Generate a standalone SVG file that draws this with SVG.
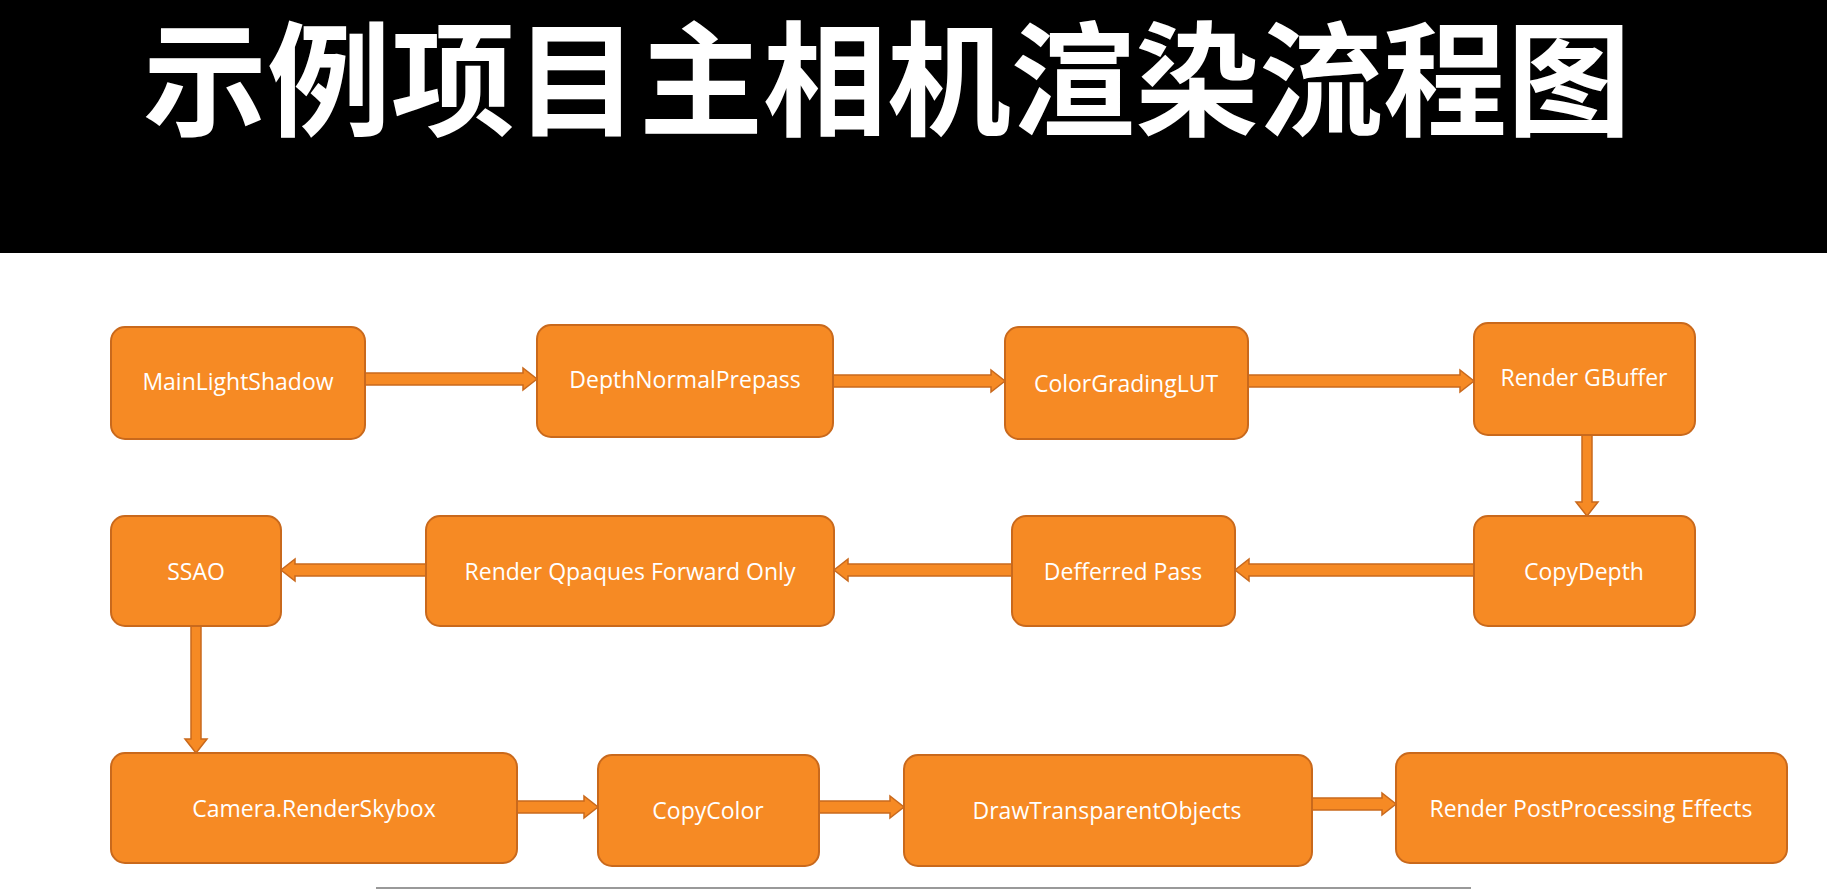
<svg xmlns="http://www.w3.org/2000/svg" width="1827" height="890" viewBox="0 0 1827 890">
<style>
.n rect{fill:#F68A24;stroke:#C9691C;stroke-width:2}
.n text{fill:#fff;font-family:"Open Sans","Noto Sans",sans-serif;font-size:23px;text-anchor:middle;dominant-baseline:central}
#connectors polygon{fill:#F68A24;stroke:#C9691C;stroke-width:1.5}
</style>
<rect width="1827" height="890" fill="#fff"/>
<rect width="1827" height="253" fill="#000"/>
<text x="887" y="126" fill="#fff" font-family="'Noto Sans CJK SC',sans-serif" font-weight="bold" font-size="124" text-anchor="middle">示例项目主相机渲染流程图</text>
<line x1="376" y1="888" x2="1471" y2="888" stroke="#999" stroke-width="2"/>
<g id="connectors">
<polygon points="365,373 523,373 523,368 537,379 523,390 523,385 365,385"/>
<polygon points="833,375 991,375 991,370 1005,381 991,392 991,387 833,387"/>
<polygon points="1248,375 1460,375 1460,370 1474,381 1460,392 1460,387 1248,387"/>
<polygon points="1582,435 1582,502 1576,502 1587,516 1598,502 1592,502 1592,435"/>
<polygon points="1474,564 1249,564 1249,559 1235,570 1249,581 1249,576 1474,576"/>
<polygon points="1012,564 848,564 848,559 834,570 848,581 848,576 1012,576"/>
<polygon points="426,564 295,564 295,559 281,570 295,581 295,576 426,576"/>
<polygon points="191,626 191,739 185,739 196,753 207,739 201,739 201,626"/>
<polygon points="517,801 584,801 584,796 598,807 584,818 584,813 517,813"/>
<polygon points="819,801 890,801 890,796 904,807 890,818 890,813 819,813"/>
<polygon points="1312,798 1382,798 1382,793 1396,804 1382,815 1382,810 1312,810"/>
</g>
<g id="n1" class="n"><rect x="111" y="327" width="254" height="112" rx="14"/><text x="238" y="381">MainLightShadow</text></g>
<g id="n2" class="n"><rect x="537" y="325" width="296" height="112" rx="14"/><text x="685" y="379">DepthNormalPrepass</text></g>
<g id="n3" class="n"><rect x="1005" y="327" width="243" height="112" rx="14"/><text x="1126" y="383">ColorGradingLUT</text></g>
<g id="n4" class="n"><rect x="1474" y="323" width="221" height="112" rx="14"/><text x="1584" y="377">Render GBuffer</text></g>
<g id="n5" class="n"><rect x="1474" y="516" width="221" height="110" rx="14"/><text x="1584" y="571">CopyDepth</text></g>
<g id="n6" class="n"><rect x="1012" y="516" width="223" height="110" rx="14"/><text x="1123" y="571">Defferred Pass</text></g>
<g id="n7" class="n"><rect x="426" y="516" width="408" height="110" rx="14"/><text x="630" y="571">Render Qpaques Forward Only</text></g>
<g id="n8" class="n"><rect x="111" y="516" width="170" height="110" rx="14"/><text x="196" y="571">SSAO</text></g>
<g id="n9" class="n"><rect x="111" y="753" width="406" height="110" rx="14"/><text x="314" y="808">Camera.RenderSkybox</text></g>
<g id="n10" class="n"><rect x="598" y="755" width="221" height="111" rx="14"/><text x="708" y="810">CopyColor</text></g>
<g id="n11" class="n"><rect x="904" y="755" width="408" height="111" rx="14"/><text x="1107" y="810">DrawTransparentObjects</text></g>
<g id="n12" class="n"><rect x="1396" y="753" width="391" height="110" rx="14"/><text x="1591" y="808">Render PostProcessing Effects</text></g>
</svg>
